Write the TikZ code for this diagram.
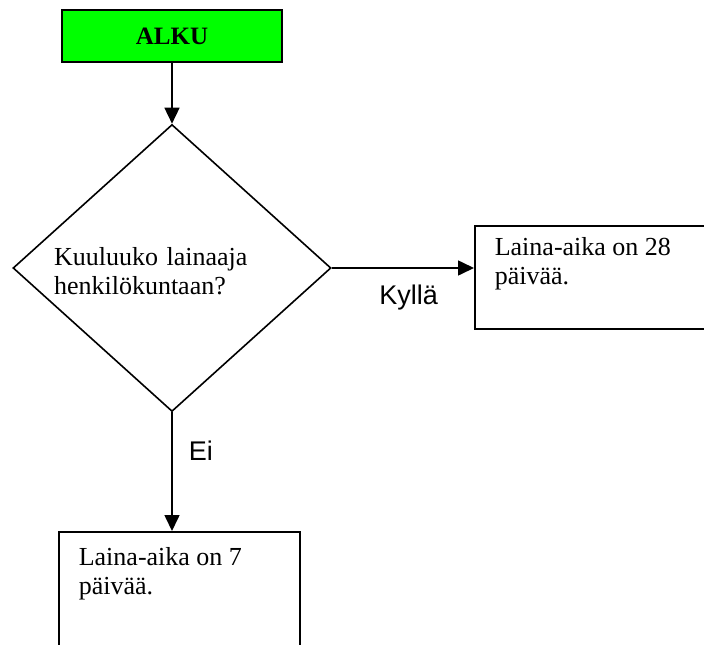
\documentclass[tikz,border=0pt]{standalone}
\usepackage{fontspec}
\setmainfont{Liberation Serif}
\newfontfamily\labelfont{Liberation Sans}
\usetikzlibrary{arrows.meta, shapes.geometric}
\definecolor{alkugreen}{RGB}{0,255,0}
\newcommand{\boxtext}[2]{\parbox[t][#1][t]{201pt}{\raggedright #2}}

\begin{document}
\begin{tikzpicture}[x=1pt, y=-1pt, line width=1.6pt, >={Triangle[width=15pt, length=16pt]}]
\tikzstyle{start}=[rectangle, draw, line width=2pt, fill=alkugreen, minimum width=220pt, minimum height=52pt, inner sep=0pt, font=\fontsize{25}{29}\selectfont\bfseries]
\tikzstyle{decision}=[diamond, draw, aspect=1.1, minimum width=318pt, minimum height=287pt, inner sep=0pt, text width=236pt, text height=25pt, align=left, font=\fontsize{26}{29}\selectfont]
\tikzstyle{infobox}=[rectangle, draw, anchor=north west, inner xsep=20pt, inner ysep=12pt, font=\fontsize{26}{29}\selectfont]
\tikzstyle{answer}=[inner sep=2pt, font=\labelfont\fontsize{27}{30}\selectfont]
\useasboundingbox (0,0) rectangle (704,645);
\clip (0,0) rectangle (704,645);

\node[start] (start) at (172,36) {ALKU};
\node[decision] (question) at (172,268) {Kuuluuko lainaaja\\henkilökuntaan?};
\node[infobox] (long) at (474,225) {\boxtext{79pt}{Laina-aika on 28\\päivää.}};
\node[infobox, inner ysep=16pt] (short) at (58,531) {\boxtext{120pt}{Laina-aika on 7\\päivää.}};

\path[->]
(start) edge (question)
(question.east) edge node[answer, below=14pt, pos=.54] {Kyllä} (question.east -| long.west)
(question.south) edge node[answer, right=14pt, pos=.32] {Ei} (question.south |- short.north);
\end{tikzpicture}
\end{document}
